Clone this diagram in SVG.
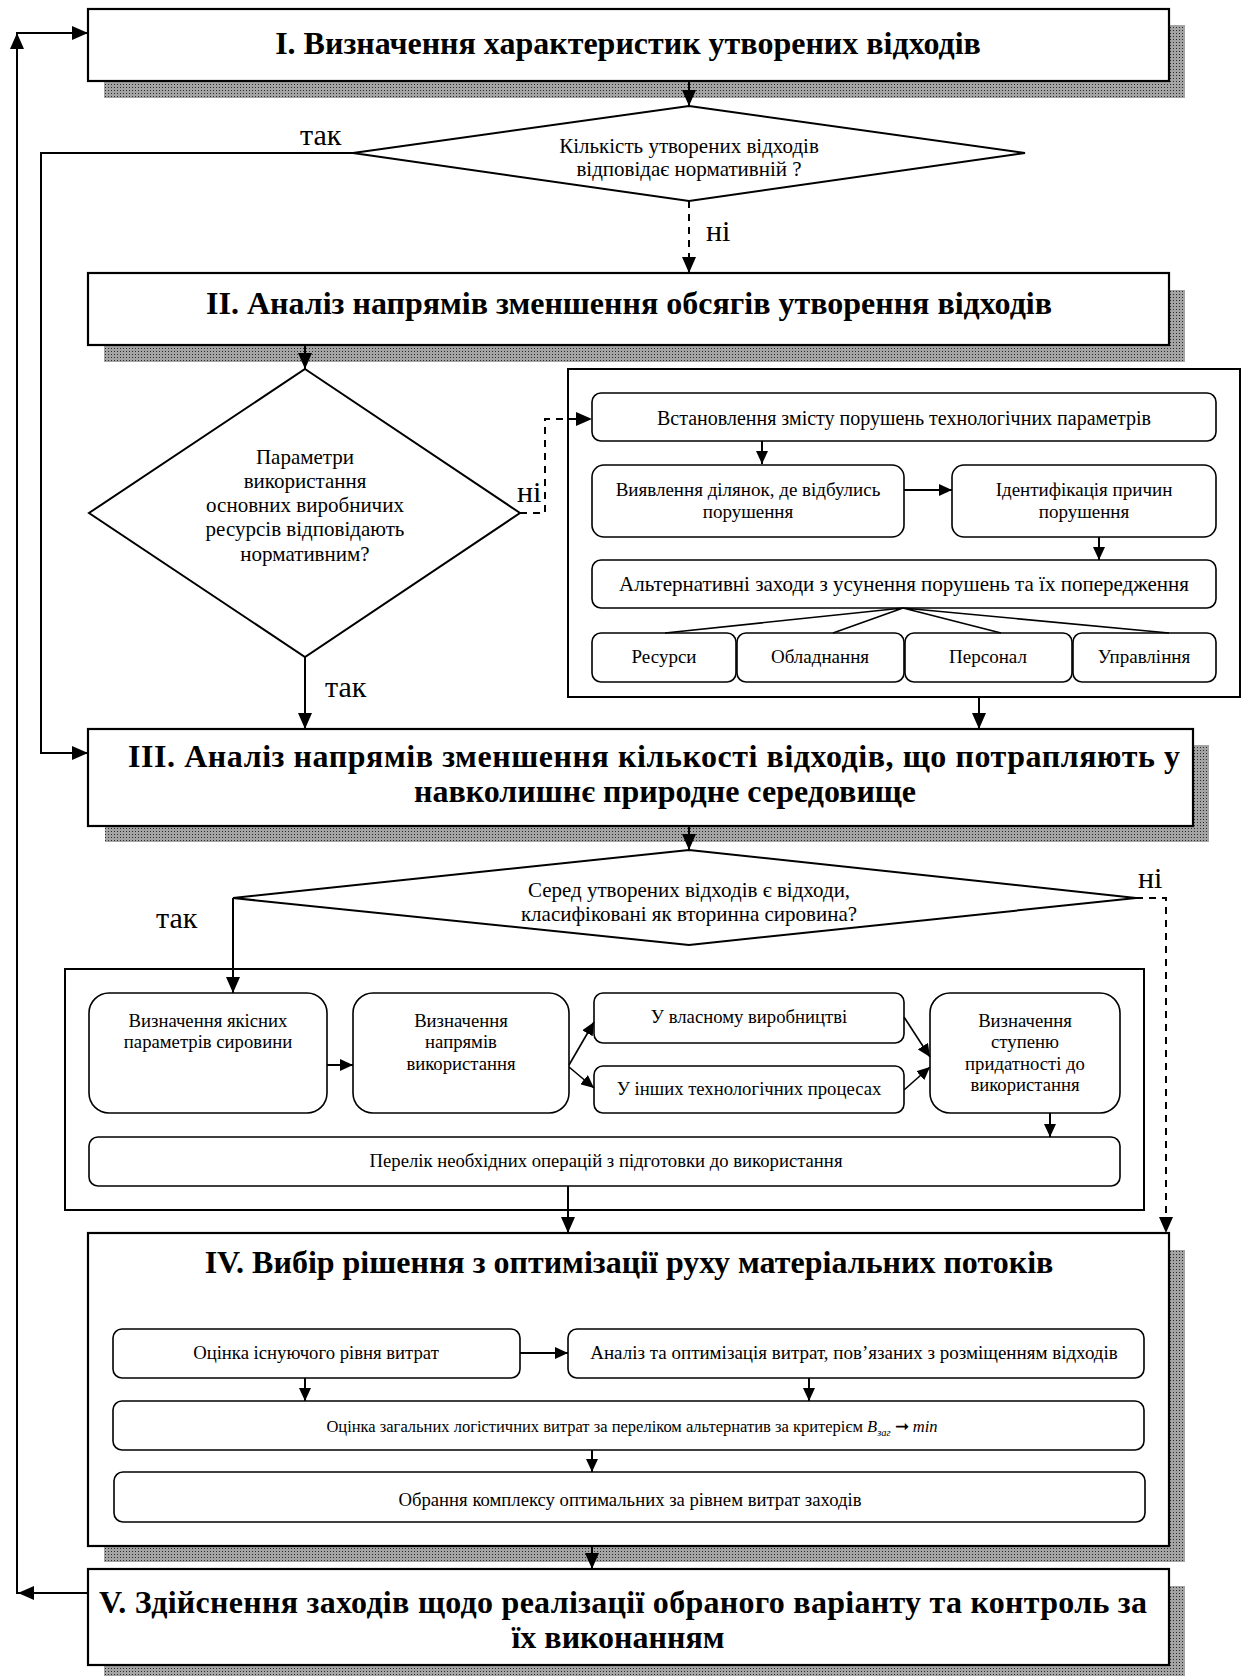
<svg xmlns="http://www.w3.org/2000/svg" width="1247" height="1676" viewBox="0 0 1247 1676">
<defs>
<pattern id="dots" width="3" height="3" patternUnits="userSpaceOnUse"><rect width="3" height="3" fill="#a4a4a4"/><rect width="1" height="1" fill="#2a2a2a"/></pattern>
<marker id="ah" viewBox="0 0 16 14" markerWidth="16" markerHeight="14" refX="16" refY="7" orient="auto" markerUnits="userSpaceOnUse"><path d="M0,0 L16,7 L0,14 z" fill="#000"/></marker>
<marker id="as" viewBox="0 0 13 12" markerWidth="13" markerHeight="12" refX="13" refY="6" orient="auto" markerUnits="userSpaceOnUse"><path d="M0,0 L13,6 L0,12 z" fill="#000"/></marker>
</defs>
<style>
.big{fill:#fff;stroke:#000;stroke-width:2.2}
.sh{fill:url(#dots);stroke:none}
.cont{fill:#fff;stroke:#000;stroke-width:2}
.rb{fill:#fff;stroke:#000;stroke-width:1.6}
.dia{fill:#fff;stroke:#000;stroke-width:2}
.ttl{font-family:"Liberation Serif","Times New Roman",serif;font-weight:bold;font-size:32px;text-anchor:middle;fill:#000}
.ttls{font-family:"Liberation Serif","Times New Roman",serif;font-weight:bold;font-size:32px;fill:#000}
.t21{font-family:"Liberation Serif","Times New Roman",serif;font-size:21px;text-anchor:middle;fill:#000}
.t20{font-family:"Liberation Serif","Times New Roman",serif;font-size:20px;text-anchor:middle;fill:#000}
.t19{font-family:"Liberation Serif","Times New Roman",serif;font-size:19px;text-anchor:middle;fill:#000}
.t18{font-family:"Liberation Serif","Times New Roman",serif;font-size:18.7px;text-anchor:middle;fill:#000}
.lbl{font-family:"Liberation Serif","Times New Roman",serif;font-size:30px;fill:#000}
.ln{fill:none;stroke:#000;stroke-width:2}
.lt{fill:none;stroke:#000;stroke-width:1.6}
.dash{fill:none;stroke:#000;stroke-width:2;stroke-dasharray:7,6}
</style>

<g id="node-I">
<rect class="sh" x="104" y="25" width="1081" height="73"/>
<rect class="big" x="88" y="9" width="1081" height="72"/>
<text class="ttl" x="628" y="54">I. Визначення характеристик утворених відходів</text>
</g>

<g id="decision-1">
<polygon class="dia" points="689,106 1025,153 689,201 353,153"/>
<text class="t21" x="689" y="153">Кількість утворених відходів</text>
<text class="t21" x="689" y="176">відповідає нормативній ?</text>
</g>

<g id="node-II">
<rect class="sh" x="104" y="290" width="1081" height="72"/>
<rect class="big" x="88" y="273" width="1081" height="72"/>
<text class="ttl" x="629" y="314">II. Аналіз напрямів зменшення обсягів утворення відходів</text>
</g>

<g id="decision-2">
<polygon class="dia" points="305,369 520,513 305,657 89,513"/>
<text class="t21" x="305" y="464">Параметри</text>
<text class="t21" x="305" y="488">використання</text>
<text class="t21" x="305" y="512">основних виробничих</text>
<text class="t21" x="305" y="536">ресурсів відповідають</text>
<text class="t21" x="305" y="561">нормативним?</text>
</g>

<g id="container-II">
<rect class="cont" x="568" y="369" width="672" height="328"/>
</g>
<g id="c1-establish">
<rect class="rb" x="592" y="393" width="624" height="48" rx="9"/>
<text class="t20" x="904" y="425">Встановлення змісту порушень технологічних параметрів</text>
</g>
<g id="c1-detect">
<rect class="rb" x="592" y="465" width="312" height="72" rx="12"/>
<text class="t19" x="748" y="496">Виявлення ділянок, де відбулись</text>
<text class="t19" x="748" y="518">порушення</text>
</g>
<g id="c1-identify">
<rect class="rb" x="952" y="465" width="264" height="72" rx="12"/>
<text class="t19" x="1084" y="496">Ідентифікація причин</text>
<text class="t19" x="1084" y="518">порушення</text>
</g>
<g id="c1-alternatives">
<rect class="rb" x="592" y="560" width="624" height="48" rx="9"/>
<text class="t21" x="904" y="591">Альтернативні заходи з усунення порушень та їх попередження</text>
</g>
<g id="c1-resources">
<rect class="rb" x="592" y="633" width="144" height="49" rx="9"/>
<text class="t19" x="664" y="663">Ресурси</text>
</g>
<g id="c1-equipment">
<rect class="rb" x="737" y="633" width="167" height="49" rx="9"/>
<text class="t19" x="820" y="663">Обладнання</text>
</g>
<g id="c1-personnel">
<rect class="rb" x="905" y="633" width="167" height="49" rx="9"/>
<text class="t19" x="988" y="663">Персонал</text>
</g>
<g id="c1-management">
<rect class="rb" x="1073" y="633" width="143" height="49" rx="9"/>
<text class="t19" x="1144" y="663">Управління</text>
</g>

<g id="node-III">
<rect class="sh" x="105" y="745" width="1104" height="97"/>
<rect class="big" x="88" y="729" width="1105" height="97"/>
<text class="ttls" x="128" y="767" textLength="1052" lengthAdjust="spacing">III. Аналіз напрямів зменшення кількості відходів, що потрапляють у</text>
<text class="ttl" x="665" y="802">навколишнє природне середовище</text>
</g>

<g id="decision-3">
<polygon class="dia" points="689,850 1136,898 689,945 233,898"/>
<text class="t21" x="689" y="897">Серед утворених відходів є відходи,</text>
<text class="t21" x="689" y="921">класифіковані як вторинна сировина?</text>
</g>

<g id="container-III">
<rect class="cont" x="65" y="969" width="1079" height="241"/>
</g>
<g id="c2-quality">
<rect class="rb" x="89" y="993" width="238" height="120" rx="20"/>
<text class="t18" x="208" y="1027">Визначення якісних</text>
<text class="t18" x="208" y="1048">параметрів сировини</text>
</g>
<g id="c2-directions">
<rect class="rb" x="353" y="993" width="216" height="120" rx="20"/>
<text class="t18" x="461" y="1027">Визначення</text>
<text class="t18" x="461" y="1048">напрямів</text>
<text class="t18" x="461" y="1070">використання</text>
</g>
<g id="c2-own">
<rect class="rb" x="594" y="993" width="310" height="50" rx="9"/>
<text class="t18" x="749" y="1023">У власному виробництві</text>
</g>
<g id="c2-other">
<rect class="rb" x="594" y="1066" width="310" height="47" rx="9"/>
<text class="t18" x="749" y="1095">У інших технологічних процесах</text>
</g>
<g id="c2-suitability">
<rect class="rb" x="930" y="993" width="190" height="120" rx="20"/>
<text class="t18" x="1025" y="1027">Визначення</text>
<text class="t18" x="1025" y="1048">ступеню</text>
<text class="t18" x="1025" y="1070">придатності до</text>
<text class="t18" x="1025" y="1091">використання</text>
</g>
<g id="c2-operations">
<rect class="rb" x="89" y="1137" width="1031" height="49" rx="9"/>
<text class="t18" x="606" y="1167">Перелік необхідних операцій з підготовки до використання</text>
</g>

<g id="node-IV">
<rect class="sh" x="104" y="1250" width="1081" height="312"/>
<rect class="big" x="88" y="1233" width="1081" height="313"/>
<text class="ttl" x="629" y="1273">IV. Вибір рішення з оптимізації руху матеріальних потоків</text>
</g>
<g id="iv-current">
<rect class="rb" x="113" y="1329" width="407" height="49" rx="9"/>
<text class="t18" x="316" y="1359">Оцінка існуючого рівня витрат</text>
</g>
<g id="iv-analysis">
<rect class="rb" x="568" y="1329" width="576" height="49" rx="9"/>
<text class="t19" x="854" y="1359">Аналіз та оптимізація витрат, пов’язаних з розміщенням відходів</text>
</g>
<g id="iv-total">
<rect class="rb" x="113" y="1401" width="1031" height="49" rx="9"/>
<text class="t18" x="632" y="1432" style="font-size:16.5px">Оцінка загальних логістичних витрат за переліком альтернатив за критерієм <tspan font-style="italic">B</tspan><tspan font-style="italic" font-size="10.5px" dy="4">заг</tspan><tspan dy="-4"> ➞ </tspan><tspan font-style="italic">min</tspan></text>
</g>
<g id="iv-choose">
<rect class="rb" x="114" y="1472" width="1031" height="50" rx="9"/>
<text class="t18" x="630" y="1506">Обрання комплексу оптимальних за рівнем витрат заходів</text>
</g>

<g id="node-V">
<rect class="sh" x="104" y="1586" width="1081" height="90"/>
<rect class="big" x="88" y="1569" width="1081" height="96"/>
<text class="ttls" x="99" y="1613" textLength="1048" lengthAdjust="spacing">V. Здійснення заходів щодо реалізації обраного варіанту та контроль за</text>
<text class="ttl" x="618" y="1648">їх виконанням</text>
</g>

<g id="connectors">
<path class="ln" d="M689,81 V106" marker-end="url(#ah)"/>
<path class="dash" d="M689,201 V273" marker-end="url(#ah)"/>
<path class="ln" d="M353,153 H41 V753 H88" marker-end="url(#ah)"/>
<path class="ln" d="M88,1593 H17 V33 H88" marker-end="url(#ah)"/>
<polygon points="17,33 10,49 24,49" fill="#000"/>
<polygon points="18,1593 34,1586 34,1600" fill="#000"/>
<path class="ln" d="M305,345 V369" marker-end="url(#ah)"/>
<path class="ln" d="M305,657 V729" marker-end="url(#ah)"/>
<path class="dash" d="M520,513 H545 V419 H592" marker-end="url(#ah)"/>
<path class="ln" d="M762,441 V464" marker-end="url(#as)"/>
<path class="ln" d="M904,490 H952" marker-end="url(#as)"/>
<path class="ln" d="M1099,537 V560" marker-end="url(#as)"/>
<path class="lt" d="M903,608 L665,633 M903,608 L833,633 M903,608 L1001,633 M903,608 L1169,633"/>
<path class="ln" d="M979,697 V729" marker-end="url(#ah)"/>
<path class="ln" d="M689,826 V850" marker-end="url(#ah)"/>
<path class="ln" d="M233,898 V993" marker-end="url(#ah)"/>
<path class="dash" d="M1136,898 H1166 V1233" marker-end="url(#ah)"/>
<path class="ln" d="M327,1065 H353" marker-end="url(#as)"/>
<path class="lt" d="M569,1065 L594,1022" marker-end="url(#as)"/>
<path class="lt" d="M569,1067 L594,1088" marker-end="url(#as)"/>
<path class="lt" d="M904,1017 L930,1057" marker-end="url(#as)"/>
<path class="lt" d="M904,1090 L930,1067" marker-end="url(#as)"/>
<path class="ln" d="M1050,1113 V1137" marker-end="url(#as)"/>
<path class="ln" d="M568,1186 V1233" marker-end="url(#ah)"/>
<path class="ln" d="M520,1353 H568" marker-end="url(#as)"/>
<path class="ln" d="M305,1378 V1401" marker-end="url(#as)"/>
<path class="ln" d="M809,1378 V1401" marker-end="url(#as)"/>
<path class="ln" d="M592,1450 V1472" marker-end="url(#as)"/>
<path class="ln" d="M592,1546 V1569" marker-end="url(#ah)"/>
<text class="lbl" x="300" y="145">так</text>
<text class="lbl" x="706" y="241">ні</text>
<text class="lbl" x="517" y="502">ні</text>
<text class="lbl" x="325" y="697">так</text>
<text class="lbl" x="156" y="928">так</text>
<text class="lbl" x="1138" y="888">ні</text>
</g>
</svg>
